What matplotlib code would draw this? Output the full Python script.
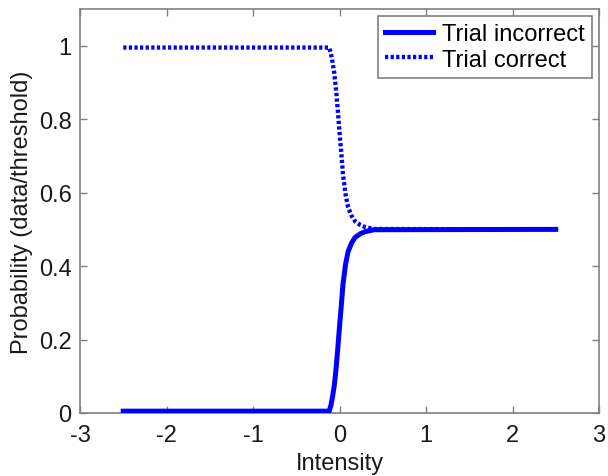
import matplotlib
matplotlib.use('Agg')
import matplotlib.pyplot as plt

# psychometric curves read per trial outcome
intensity_incorrect = [-2.5, -0.12, -0.10, -0.08, -0.06, -0.04, -0.02, 0.0, 0.02, 0.04,
                       0.07, 0.10, 0.14, 0.18, 0.24, 0.30, 0.40, 2.5]
prob_incorrect = [0.005, 0.005, 0.02, 0.045, 0.075, 0.12, 0.175, 0.235, 0.29, 0.35,
                  0.405, 0.44, 0.463, 0.478, 0.488, 0.494, 0.499, 0.5]

intensity_correct = [-2.5, -0.12, -0.10, -0.08, -0.06, -0.04, -0.02, 0.0, 0.02, 0.04,
                     0.07, 0.10, 0.14, 0.18, 0.24, 0.30, 0.40, 2.5]
prob_correct = [0.995, 0.995, 0.98, 0.955, 0.925, 0.88, 0.825, 0.765, 0.71, 0.65,
                0.595, 0.56, 0.537, 0.522, 0.512, 0.506, 0.501, 0.5]

xticks = [-3, -2, -1, 0, 1, 2, 3]
yticks = [0, 0.2, 0.4, 0.6, 0.8, 1]
ytick_labels = ['0', '0.2', '0.4', '0.6', '0.8', '1']

plt.rcParams['font.family'] = ['Liberation Sans', 'DejaVu Sans']
plt.rcParams['font.size'] = 17

fig = plt.figure(figsize=(6.08, 4.77), dpi=100)
ax = fig.add_axes([80 / 608, 1 - 414 / 477, 519 / 608, 404 / 477])

ax.plot(intensity_correct, prob_correct, color='blue', linewidth=3.1,
        linestyle=(0, (0.75, 0.55)), dash_capstyle='butt', label='Trial correct', zorder=2)
ax.plot(intensity_incorrect, prob_incorrect, color='blue', linewidth=3.6,
        label='Trial incorrect', zorder=3)

ax.set_xlim(-3, 3)
ax.set_ylim(0, 1.1)
ax.set_xticks(xticks)
ax.set_xticklabels([str(t) for t in xticks])
ax.set_yticks(yticks)
ax.set_yticklabels(ytick_labels)
ax.tick_params(direction='in', length=5, width=1, color='#808080', top=True, right=True,
               labelcolor='#1a1a1a')
ax.tick_params(axis='y', pad=6)
ax.tick_params(axis='x', pad=8)
for sp in ax.spines.values():
    sp.set_color('#808080')
    sp.set_linewidth(1.2)

ax.set_xlabel('Intensity', color='#1a1a1a', labelpad=4)
ax.set_ylabel('Probability (data/threshold)', color='#1a1a1a', labelpad=4)

handles, labels = ax.get_legend_handles_labels()
leg = ax.legend(handles[::-1], labels[::-1], loc='upper right', fancybox=False,
                framealpha=1, edgecolor='#808080', handlelength=2.0, handletextpad=0.4,
                borderaxespad=0.3, borderpad=0.3, labelspacing=0.15, fontsize=17)
leg.get_frame().set_linewidth(1.2)

fig.savefig('out.png', dpi=100)
